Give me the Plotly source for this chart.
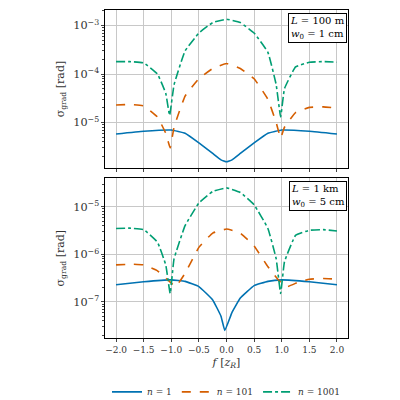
import plotly.graph_objects as go

# top panel (L=100 m, w0=1 cm)
x1_a = [-2, -1.5, -1, -0.75, -0.5, -0.25, -0.1, 0, 0.1, 0.25, 0.5, 0.75, 1, 1.5, 2]
y1_a = [5.8e-6, 6.6e-6, 7e-6, 6.0e-6, 3.8e-6, 2.3e-6, 1.7e-6, 1.55e-6, 1.7e-6, 2.3e-6, 3.8e-6, 6.0e-6, 7e-6, 6.6e-6, 5.8e-6]
x1_b = [-2, -1.75, -1.5, -1.25, -1.1, -1.02, -0.95, -0.75, -0.5, -0.25, 0, 0.25, 0.5, 0.75, 0.9, 0.98, 1.05, 1.25, 1.5, 1.75, 2]
y1_b = [2.3e-5, 2.35e-5, 2.2e-5, 1.3e-5, 6e-6, 3e-6, 8e-6, 3.5e-5, 8e-5, 1.3e-4, 1.65e-4, 1.3e-4, 8e-5, 3e-5, 1e-5, 4.8e-6, 8e-6, 1.6e-5, 2.05e-5, 2.1e-5, 2e-5]
x1_c = [-2, -1.75, -1.5, -1.25, -1.1, -1.03, -0.95, -0.75, -0.5, -0.25, 0, 0.25, 0.5, 0.75, 0.9, 0.98, 1.05, 1.25, 1.5, 1.75, 2]
y1_c = [1.8e-4, 1.8e-4, 1.7e-4, 1.0e-4, 4e-5, 1.4e-5, 6e-5, 3e-4, 7e-4, 1.15e-3, 1.35e-3, 1.15e-3, 7e-4, 2.8e-4, 6e-5, 1.3e-5, 5e-5, 1.4e-4, 1.75e-4, 1.8e-4, 1.75e-4]

# bottom panel (L=1 km, w0=5 cm)
x2_a = [-2, -1.5, -1, -0.75, -0.5, -0.25, -0.1, -0.03, 0.1, 0.25, 0.5, 0.75, 1, 1.5, 2]
y2_a = [2.3e-7, 2.65e-7, 2.9e-7, 2.7e-7, 2.1e-7, 1.1e-7, 5e-8, 2.5e-8, 6e-8, 1.2e-7, 2.2e-7, 2.7e-7, 2.9e-7, 2.65e-7, 2.3e-7]
x2_b = [-2, -1.7, -1.5, -1.25, -1.05, -0.92, -0.75, -0.5, -0.25, 0, 0.25, 0.5, 0.75, 0.95, 1.1, 1.3, 1.5, 1.75, 2]
y2_b = [6e-7, 6.2e-7, 6e-7, 4.5e-7, 2.8e-7, 2.1e-7, 4e-7, 1.4e-6, 2.8e-6, 3.4e-6, 2.8e-6, 1.5e-6, 5.5e-7, 2.8e-7, 2.1e-7, 2.6e-7, 3e-7, 3.1e-7, 3e-7]
x2_c = [-2, -1.75, -1.5, -1.25, -1.1, -1.02, -0.95, -0.75, -0.5, -0.25, 0, 0.25, 0.5, 0.75, 0.9, 0.98, 1.05, 1.25, 1.5, 1.75, 2]
y2_c = [3.5e-6, 3.55e-6, 3.3e-6, 1.8e-6, 6e-7, 1.5e-7, 8e-7, 4e-6, 1.2e-5, 2.1e-5, 2.5e-5, 2e-5, 1.1e-5, 3.5e-6, 8e-7, 1.5e-7, 7e-7, 2.5e-6, 3.2e-6, 3.3e-6, 3.1e-6]

names = ["<i>n</i> = 1", "<i>n</i> = 101", "<i>n</i> = 1001"]
colors = ["#0072B2", "#D55E00", "#009E73"]
dashes = ["solid", "dash", "dashdot"]
xtick = [-2.0, -1.5, -1.0, -0.5, 0.0, 0.5, 1.0, 1.5, 2.0]

fig = go.Figure()
top = [(x1_a, y1_a), (x1_b, y1_b), (x1_c, y1_c)]
bot = [(x2_a, y2_a), (x2_b, y2_b), (x2_c, y2_c)]
for i, (xx, yy) in enumerate(top):
    fig.add_trace(go.Scatter(x=xx, y=yy, mode="lines", name=names[i], line=dict(color=colors[i], dash=dashes[i], width=1.6, shape="spline", smoothing=0.3), xaxis="x", yaxis="y", showlegend=False))
for i, (xx, yy) in enumerate(bot):
    fig.add_trace(go.Scatter(x=xx, y=yy, mode="lines", name=names[i], line=dict(color=colors[i], dash=dashes[i], width=1.6, shape="spline", smoothing=0.3), xaxis="x2", yaxis="y2"))

ax = dict(range=[-2.2, 2.2], tickvals=xtick, showgrid=True, gridcolor="#c8c8c8", showline=True, linecolor="black", mirror=True, ticks="outside", ticklen=3, zeroline=False)
yax = dict(type="log", showgrid=True, gridcolor="#c8c8c8", showline=True, linecolor="black", mirror=True, ticks="outside", ticklen=3, exponentformat="power", dtick=1, zeroline=False,
           minor=dict(ticks="outside", ticklen=2, showgrid=False), title=dict(text="σ<sub>grad</sub> [rad]", standoff=6))
fig.update_layout(
    width=400, height=400, template="simple_white",
    font=dict(family="DejaVu Serif", size=9, color="#333"),
    margin=dict(l=97, r=60, t=2, b=43),
    xaxis=dict(ax, domain=[0, 1], anchor="y", showticklabels=False, matches="x2"),
    xaxis2=dict(ax, domain=[0, 1], anchor="y2", tickformat=".1f", title=dict(text="<i>f</i> [<i>z<sub>R</sub></i>]", standoff=4)),
    yaxis=dict(yax, domain=[0.518, 1], range=[-5.94, -2.68], anchor="x"),
    yaxis2=dict(yax, domain=[0, 0.487], range=[-7.76, -4.4], anchor="x2"),
    legend=dict(orientation="h", x=0.5, xanchor="center", y=-0.12, yanchor="top", font=dict(size=9)),
    annotations=[
        dict(text="<i>L</i> = 100 m<br><i>w</i><sub>0</sub> = 1 cm", xref="x domain", yref="y domain", x=0.995, y=0.98, xanchor="right", yanchor="top", showarrow=False, align="left", bordercolor="black", borderwidth=1, bgcolor="white", font=dict(size=10, color="black")),
        dict(text="<i>L</i> = 1 km<br><i>w</i><sub>0</sub> = 5 cm", xref="x2 domain", yref="y2 domain", x=0.995, y=0.98, xanchor="right", yanchor="top", showarrow=False, align="left", bordercolor="black", borderwidth=1, bgcolor="white", font=dict(size=10, color="black")),
    ],
)
fig.write_html("out.html")
